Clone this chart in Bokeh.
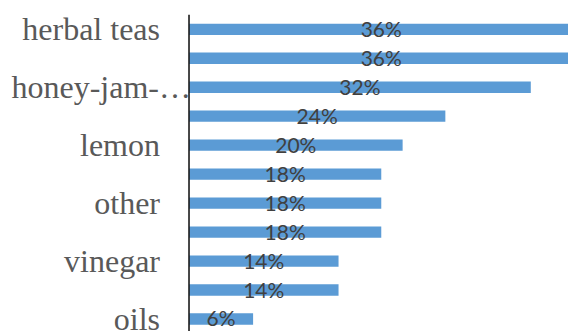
from bokeh.plotting import figure
from bokeh.models import Range1d, ColumnDataSource
from bokeh.core.properties import value
from bokeh.embed import file_html
from bokeh.resources import INLINE

# data (top to bottom)
categories = ["herbal teas", "", "honey-jam-\u2026", "", "lemon", "", "other", "", "vinegar", "", "oils"]
values = [36, 36, 32, 24, 20, 18, 18, 18, 14, 14, 6]
value_labels = [f"{v}%" for v in values]

n = len(values)
pos = list(range(n))

# styling
label_offsets = [-29 if c != "honey-jam-\u2026" else 2 for c in categories]

src = ColumnDataSource(dict(
    y=pos, v=values, half=[v / 2 for v in values], vlab=value_labels,
    cat=categories, zero=[0] * n, off=label_offsets,
))

p = figure(width=568, height=331, output_backend="svg", toolbar_location=None,
           x_range=Range1d(-17.65, 35.53), y_range=Range1d(10.432, -0.994),
           x_axis_location=None, y_axis_location=None, min_border=0)
p.outline_line_color = None
p.xgrid.visible = False
p.ygrid.visible = False
p.background_fill_color = "white"

p.hbar(y="y", left=0, right="v", height=0.39, source=src,
       fill_color="#5B9BD5", line_color=None)

# vertical category axis line
p.segment(x0=[0], y0=[-0.5], x1=[0], y1=[n - 0.5], line_color="#1a1a1a", line_width=1.6)

# value labels centred on bars
p.text(x="half", y="y", text="vlab", source=src, text_align="center",
       text_baseline="alphabetic", y_offset=-1, text_font=value("Lato"),
       text_font_size="21px", text_color="#404040")

# category labels
p.text(x="zero", y="y", text="cat", source=src, text_align="right",
       text_baseline="alphabetic", x_offset="off", y_offset=0,
       text_font=value("Liberation Serif"), text_font_size="32px", text_color="#595959")

open("out.html", "w").write(file_html(p, INLINE))
